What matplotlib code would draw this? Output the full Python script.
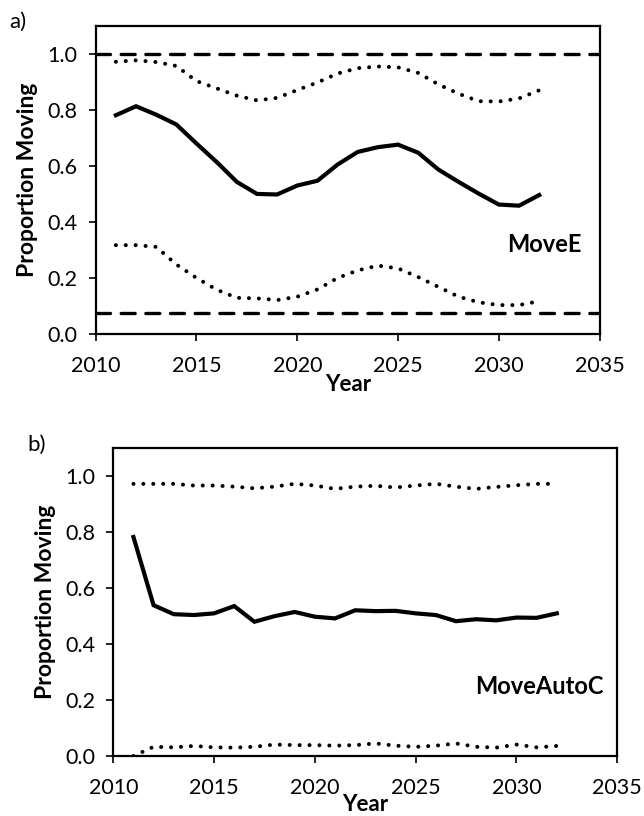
import matplotlib
matplotlib.use('Agg')
import matplotlib.pyplot as plt

plt.rcParams['font.family'] = ['Lato', 'DejaVu Sans']

# data
years = list(range(2011, 2033))

moveE_mean = [0.780, 0.812, 0.782, 0.747, 0.679, 0.613, 0.542, 0.499, 0.497, 0.529, 0.546,
              0.604, 0.649, 0.666, 0.675, 0.646, 0.586, 0.542, 0.500, 0.461, 0.457, 0.495]
moveE_upper = [0.971, 0.976, 0.970, 0.956, 0.902, 0.876, 0.850, 0.833, 0.842, 0.870, 0.897,
               0.929, 0.948, 0.954, 0.951, 0.931, 0.890, 0.857, 0.830, 0.829, 0.840, 0.869]
moveE_lower = [0.316, 0.316, 0.310, 0.247, 0.199, 0.157, 0.128, 0.126, 0.120, 0.132, 0.158,
               0.199, 0.226, 0.243, 0.233, 0.202, 0.167, 0.132, 0.112, 0.102, 0.102, 0.116]
moveE_bounds = [1.0, 0.075]

autoC_mean = [0.783, 0.539, 0.507, 0.504, 0.510, 0.536, 0.480, 0.500, 0.515, 0.498, 0.492,
              0.521, 0.518, 0.519, 0.510, 0.504, 0.482, 0.489, 0.485, 0.495, 0.494, 0.510]
autoC_upper = [0.973, 0.973, 0.973, 0.967, 0.967, 0.963, 0.957, 0.963, 0.973, 0.967, 0.955,
               0.963, 0.966, 0.960, 0.967, 0.973, 0.963, 0.955, 0.962, 0.968, 0.973, 0.973]
autoC_lower = [0.000, 0.033, 0.031, 0.036, 0.031, 0.030, 0.033, 0.041, 0.039, 0.039, 0.037,
               0.039, 0.045, 0.037, 0.033, 0.037, 0.045, 0.033, 0.030, 0.041, 0.031, 0.036]

xticks = [2010, 2015, 2020, 2025, 2030, 2035]
yticks = [0.0, 0.2, 0.4, 0.6, 0.8, 1.0]

fig = plt.figure(figsize=(6.44, 8.16), dpi=100)
ax_a = fig.add_axes([0.1486, 0.5911, 0.7826, 0.3775])
ax_b = fig.add_axes([0.1759, 0.0735, 0.7826, 0.3771])

DOT = dict(color='black', lw=2.9, linestyle=(0, (0.01, 2.45)), dash_capstyle='round')
SOLID = dict(color='black', lw=3.0, solid_joinstyle='miter')


def style(ax, xlab_y):
    ax.set_xlim(2010, 2035)
    ax.set_ylim(0, 1.1)
    ax.set_xticks(xticks)
    ax.set_yticks(yticks)
    ax.set_yticklabels([f'{v:.1f}' for v in yticks])
    ax.tick_params(direction='out', length=5, width=1.2, labelsize=15.5)
    ax.tick_params(axis='x', pad=11)
    ax.tick_params(axis='y', pad=8)
    for s in ax.spines.values():
        s.set_linewidth(1.6)
    ax.set_xlabel('Year', fontsize=16, fontweight='bold', va='bottom')
    ax.xaxis.set_label_coords(0.5, xlab_y)
    ax.set_ylabel('Proportion Moving', fontsize=16.5, fontweight='bold', va='center')
    ax.yaxis.set_label_coords(-0.135, 0.5)


# a) MoveE
for b in moveE_bounds:
    ax_a.axhline(b, color='black', lw=2.4, linestyle=(0, (4.2, 3.2)), dash_capstyle='round')
ax_a.plot(years, moveE_upper, **DOT)
ax_a.plot(years, moveE_lower, **DOT)
ax_a.plot(years, moveE_mean, **SOLID)
ax_a.text(2034.1, 0.32, 'MoveE', ha='right', va='center', fontsize=17, fontweight='bold')
style(ax_a, -0.2)

# b) MoveAutoC
ax_b.plot(years, autoC_upper, **DOT)
ax_b.plot(years, autoC_lower, **DOT)
ax_b.plot(years, autoC_mean, **SOLID)
ax_b.text(2034.3, 0.248, 'MoveAutoC', ha='right', va='center', fontsize=17, fontweight='bold')
style(ax_b, -0.192)

fig.text(18 / 644, 1 - 22 / 816, 'a)', fontsize=16, ha='center', va='center')
fig.text(37 / 644, 1 - 445 / 816, 'b)', fontsize=16, ha='center', va='center')

fig.savefig('out.png', dpi=100)
